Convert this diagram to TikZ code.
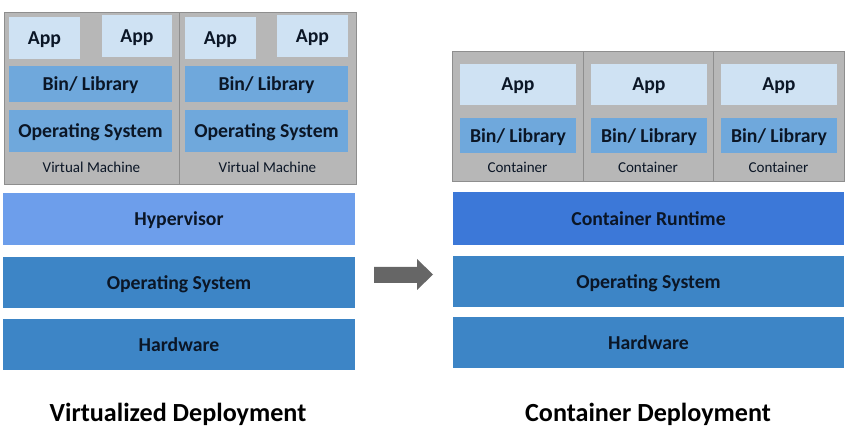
\documentclass[tikz,border=0pt]{standalone}
\usepackage{fontspec}
\setmainfont{Carlito}
\definecolor{appfill}{HTML}{CFE2F3}
\definecolor{libfill}{HTML}{6FA8DC}
\definecolor{hypfill}{HTML}{6D9EEB}
\definecolor{osfill}{HTML}{3D85C6}
\definecolor{rtfill}{HTML}{3C78D8}
\definecolor{framefill}{HTML}{B7B7B7}
\definecolor{frameline}{HTML}{8E8E8E}
\definecolor{arrowgray}{HTML}{666666}
\definecolor{labeltext}{HTML}{0B1626}
\tikzset{every picture/.style={line width=0.75pt}}
\tikzset{
  sz/.style 2 args={minimum width=#1*0.75pt, minimum height=#2*0.75pt},
  layer/.style={inner sep=0pt, text depth=0pt, text=labeltext, font=\fontsize{14.8}{16}\selectfont\bfseries},
  frame/.style={inner sep=0pt, fill=framefill, draw=frameline, line width=0.6pt},
  tag/.style={inner sep=0pt, text depth=0pt, text=labeltext, font=\fontsize{11.3}{13}\selectfont},
  title/.style={inner sep=0pt, text depth=0pt, text=black, font=\fontsize{19.6}{23}\selectfont\bfseries},
}

\begin{document}
\begin{tikzpicture}[x=0.75pt,y=0.75pt,yscale=-1,xscale=1]
\useasboundingbox (0,0) rectangle (857,434);

%Shape: Virtual machine frames
\node (vma) at (91.5,98) [frame, sz={175}{172}] {};
\node (vmb) at (267.5,98) [frame, sz={177}{172}] {};
%Shape: Apps in the virtual machines
\node (appa) at (44.5,38) [layer, fill=appfill, sz={71}{42}] {App};
\node (appb) at (137,36) [layer, fill=appfill, sz={70}{42}] {App};
\node (appc) at (220.5,38) [layer, fill=appfill, sz={71}{42}] {App};
\node (appd) at (312.5,36) [layer, fill=appfill, sz={71}{42}] {App};
%Shape: Bin/ Library and guest OS
\node (libva) at (90.5,84) [layer, fill=libfill, sz={163}{36}] {Bin/ Library};
\node (libvb) at (266.5,84) [layer, fill=libfill, sz={163}{36}] {Bin/ Library};
\node (osva) at (90.5,131) [layer, fill=libfill, sz={163}{42}] {Operating System};
\node (osvb) at (266.5,131) [layer, fill=libfill, sz={163}{42}] {Operating System};
% Text Node
\node (tagva) at (91.5,167) [tag] {Virtual Machine};
% Text Node
\node (tagvb) at (267.5,167) [tag] {Virtual Machine};
%Shape: Host layers (left)
\node (hyp) at (179,219) [layer, fill=hypfill, sz={352}{52}] {Hypervisor};
\node (osl) at (179,282.5) [layer, fill=osfill, sz={352}{51}] {Operating System};
\node (hwl) at (179,344.5) [layer, fill=osfill, sz={352}{51}] {Hardware};

%Shape: Block arrow
\fill [arrowgray] (374,267) -- (417,267) -- (417,259) -- (433,274.5) -- (417,290) -- (417,283) -- (374,283) -- cycle ;

%Shape: Container frames
\node (cta) at (517.5,116) [frame, sz={131}{130}] {};
\node (ctb) at (648,116) [frame, sz={130}{130}] {};
\node (ctc) at (778.5,116) [frame, sz={131}{130}] {};
%Shape: Apps and libraries in the containers
\node (appe) at (518,84.5) [layer, fill=appfill, sz={116}{41}] {App};
\node (appf) at (649,84.5) [layer, fill=appfill, sz={116}{41}] {App};
\node (appg) at (779,84.5) [layer, fill=appfill, sz={116}{41}] {App};
\node (libca) at (518,135.5) [layer, fill=libfill, sz={116}{35}] {Bin/ Library};
\node (libcb) at (649,135.5) [layer, fill=libfill, sz={116}{35}] {Bin/ Library};
\node (libcc) at (779,135.5) [layer, fill=libfill, sz={116}{35}] {Bin/ Library};
% Text Node
\node (tagca) at (517.5,167) [tag] {Container};
% Text Node
\node (tagcb) at (648,167) [tag] {Container};
% Text Node
\node (tagcc) at (778.5,167) [tag] {Container};
%Shape: Host layers (right)
\node (rt) at (648.5,218.5) [layer, fill=rtfill, sz={391}{53}] {Container Runtime};
\node (osr) at (648.5,281.5) [layer, fill=osfill, sz={391}{51}] {Operating System};
\node (hwr) at (648.5,342.5) [layer, fill=osfill, sz={391}{51}] {Hardware};

% Text Node
\node (titlev) at (178,412) [title] {Virtualized Deployment};
% Text Node
\node (titlec) at (648,412) [title] {Container Deployment};

\end{tikzpicture}
\end{document}
